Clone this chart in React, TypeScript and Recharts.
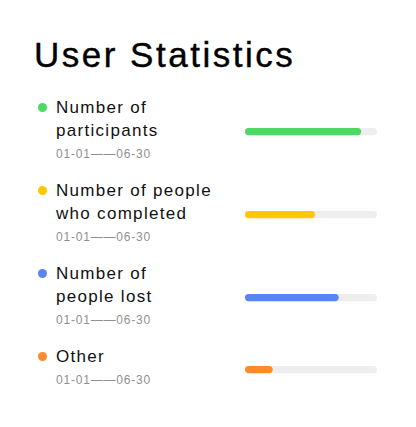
import { BarChart, Bar, XAxis, YAxis } from "recharts";

const categories = [
  ["Number of", "participants"],
  ["Number of people", "who completed"],
  ["Number of", "people lost"],
  ["Other"],
];
const values = [88, 53, 71, 21];
const colors = ["#4cd964", "#ffc700", "#5a84f2", "#ff8a2b"];
const periods = ["01-01——06-30", "01-01——06-30", "01-01——06-30", "01-01——06-30"];

const font = '"Liberation Sans", Arial, sans-serif';

function RowBar({ value, color }: { value: number; color: string }) {
  const data = [{ name: "v", value }];
  return (
    <div style={{ marginTop: 6 }}>
      <BarChart
        width={132}
        height={8}
        data={data}
        layout="vertical"
        margin={{ top: 0, right: 0, bottom: 0, left: 0 }}
      >
        <XAxis type="number" domain={[0, 100]} hide />
        <YAxis type="category" dataKey="name" hide />
        <Bar
          dataKey="value"
          fill={color}
          barSize={8}
          radius={4}
          background={{ fill: "#eeeeee", radius: 4 }}
          isAnimationActive={false}
        />
      </BarChart>
    </div>
  );
}

export default function App() {
  return (
    <div style={{ margin: -8, width: 416, height: 427, background: "#fff", fontFamily: font }}>
      <div
        style={{
          width: 413,
          height: 425,
          boxSizing: "border-box",
          border: "1px solid #f3f3f3",
          borderRadius: 16,
          boxShadow: "0 1px 3px rgba(0,0,0,0.04)",
          padding: "36px 0 0 0",
        }}
      >
        <div
          style={{
            marginLeft: 33,
            fontSize: 35,
            lineHeight: "35px",
            letterSpacing: 2.5,
            color: "#000",
            WebkitTextStroke: "0.4px #000",
          }}
        >
          User Statistics
        </div>
        <div style={{ marginTop: 24 }}>
          {categories.map((lines, i) => (
            <div
              key={i}
              style={{ display: "flex", alignItems: "center", marginBottom: 17 }}
            >
              <div style={{ width: 244, display: "flex" }}>
                <div style={{ width: 55, position: "relative" }}>
                  <div
                    style={{
                      position: "absolute",
                      left: 37,
                      top: 7,
                      width: 9,
                      height: 9,
                      borderRadius: "50%",
                      background: colors[i],
                    }}
                  />
                </div>
                <div>
                  {lines.map((t, j) => (
                    <div
                      key={j}
                      style={{ fontSize: 17, lineHeight: "23px", letterSpacing: 1.3, color: "#111" }}
                    >
                      {t}
                    </div>
                  ))}
                  <div
                    style={{
                      marginTop: 4,
                      fontSize: 12,
                      lineHeight: "16px",
                      color: "#8f8f8f",
                      letterSpacing: 0.8,
                    }}
                  >
                    {periods[i]}
                  </div>
                </div>
              </div>
              <RowBar value={values[i]} color={colors[i]} />
            </div>
          ))}
        </div>
      </div>
    </div>
  );
}
